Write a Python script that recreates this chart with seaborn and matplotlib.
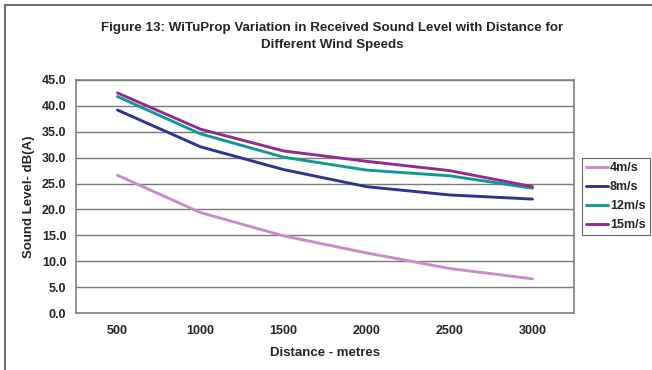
import matplotlib
matplotlib.use("Agg")
import matplotlib.pyplot as plt
import seaborn as sns
import pandas as pd
from matplotlib.lines import Line2D

distances = [500, 1000, 1500, 2000, 2500, 3000]
s4 = [26.6, 19.4, 14.9, 11.6, 8.6, 6.6]
s8 = [39.2, 32.1, 27.7, 24.4, 22.8, 22.0]
s12 = [41.8, 34.6, 30.1, 27.6, 26.5, 24.1]
s15 = [42.5, 35.5, 31.3, 29.3, 27.5, 24.4]
series_names = ["4m/s", "8m/s", "12m/s", "15m/s"]
y_ticks = [0, 5, 10, 15, 20, 25, 30, 35, 40, 45]

colors = ["#c98ccb", "#2e3590", "#0f9a90", "#932b94"]

rows = []
for name, vals in zip(series_names, [s4, s8, s12, s15]):
    for d, v in zip(distances, vals):
        rows.append({"Distance": d, "Level": v, "Speed": name})
df = pd.DataFrame(rows)

sns.set_style("white")
plt.rcParams["font.family"] = ["Liberation Sans", "DejaVu Sans"]
plt.rcParams["font.weight"] = "bold"

fig = plt.figure(figsize=(6.52, 3.70), dpi=100)
ax = fig.add_axes([76 / 652, 57 / 370, 498 / 652, 233 / 370])

sns.lineplot(data=df, x="Distance", y="Level", hue="Speed", hue_order=series_names,
             palette=colors, linewidth=2.1, ax=ax, legend=False)

ax.set_xlim(250, 3250)
ax.set_ylim(0, 45)
ax.set_yticks(y_ticks)
ax.set_yticklabels([f"{t:.1f}" for t in y_ticks])
ax.yaxis.grid(True, color="#7a7a7a", linewidth=1.0)
ax.set_axisbelow(True)

ax.set_xticks(distances)
ax.set_xticklabels([str(d) for d in distances])
ax.set_xticks([250 + 500 * i for i in range(7)], minor=True)
ax.tick_params(axis="x", which="major", length=0, pad=9, labelsize=9)
ax.tick_params(axis="x", which="minor", length=4, width=1, color="#808080", direction="out")
ax.tick_params(axis="y", which="major", length=4, width=1, color="#808080", direction="out",
               pad=3, labelsize=9)
for lab in ax.get_xticklabels() + ax.get_yticklabels():
    lab.set_fontweight("bold")

for sp in ax.spines.values():
    sp.set_color("#808080")
    sp.set_linewidth(1.2)
    sp.set_visible(True)

ax.set_xlabel("Distance - metres", fontsize=9.5, fontweight="bold", labelpad=7)
ax.set_ylabel("Sound Level- dB(A)", fontsize=9.5, fontweight="bold", labelpad=5)

fig.text(0.509, 1 - 28 / 370, "Figure 13: WiTuProp Variation in Received Sound Level with Distance for",
         ha="center", va="center", fontsize=9.6, fontweight="bold")
fig.text(0.509, 1 - 45 / 370, "Different Wind Speeds",
         ha="center", va="center", fontsize=9.6, fontweight="bold")

handles = [Line2D([0], [0], color=c, linewidth=2.1) for c in colors]
leg = fig.legend(handles, series_names, loc="upper left",
                 bbox_to_anchor=(582 / 652, 1 - 158 / 370), frameon=True,
                 fancybox=False, borderpad=0.35, handlelength=1.7, handletextpad=0.2,
                 labelspacing=0.55, borderaxespad=0,
                 prop={"weight": "bold", "size": 9})
leg.get_frame().set_edgecolor("#404040")
leg.get_frame().set_linewidth(0.8)

# outer chart border (left and top)
fig.add_artist(Line2D([5 / 652, 5 / 652], [0, 1 - 5 / 370], transform=fig.transFigure,
                      color="#707070", linewidth=1.5))
fig.add_artist(Line2D([5 / 652, 1], [1 - 5 / 370, 1 - 5 / 370], transform=fig.transFigure,
                      color="#707070", linewidth=1.5))

fig.savefig("out.png", dpi=100)
